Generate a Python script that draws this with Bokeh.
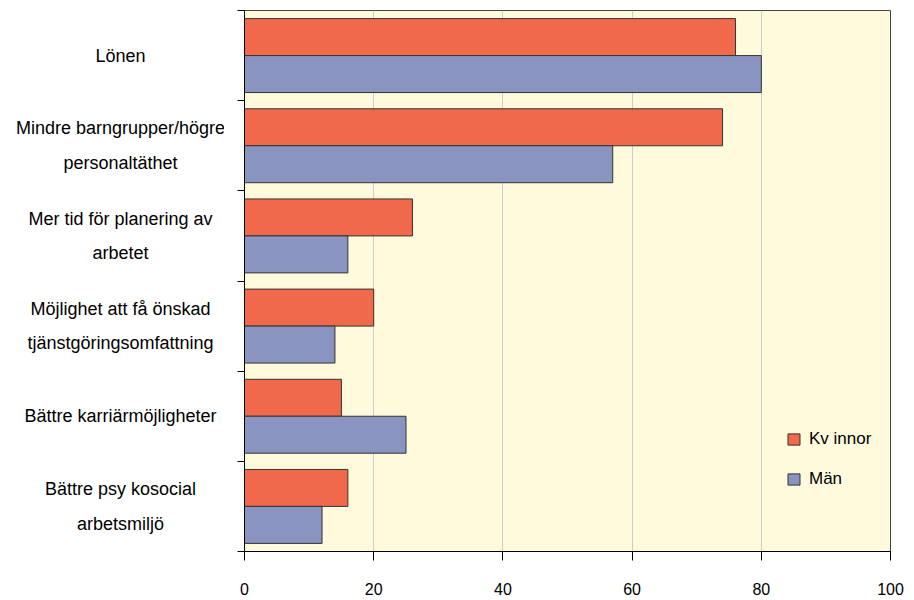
from bokeh.plotting import figure
from bokeh.layouts import row
from bokeh.models import Range1d, FixedTicker, Legend, LegendItem, ColumnDataSource
from bokeh.core.properties import value
from bokeh.embed import file_html
from bokeh.resources import INLINE

categories = [
    "Lönen",
    "Mindre barngrupper/högre\npersonaltäthet",
    "Mer tid för planering av\narbetet",
    "Möjlighet att få önskad\ntjänstgöringsomfattning",
    "Bättre karriärmöjligheter",
    "Bättre psy kosocial\narbetsmiljö",
]
kvinnor = [76, 74, 26, 20, 15, 16]
man = [80, 57, 16, 14, 25, 12]
x_ticks = [0, 20, 40, 60, 80, 100]

n = len(categories)
centers = [n - i - 0.5 for i in range(n)]
src_k = ColumnDataSource(dict(y=[c + 0.205 for c in centers], v=kvinnor))
src_m = ColumnDataSource(dict(y=[c - 0.205 for c in centers], v=man))
src_lab = ColumnDataSource(dict(y=centers, text=categories))

FONT = "Liberation Sans"
RED = "#F0694B"
BLUE = "#8A94C0"
BG = "#FFFADC"

yr = Range1d(0, n)

# left panel with category labels
pl = figure(width=224, height=600, output_backend="svg", toolbar_location=None,
            x_range=Range1d(0, 224), y_range=yr,
            min_border_left=0, min_border_right=0, min_border_top=10, min_border_bottom=49)
pl.axis.visible = False
pl.grid.grid_line_color = None
pl.outline_line_color = None
pl.background_fill_color = "white"
pl.text(x=120, y="y", text="text", source=src_lab, text_align="center",
        text_baseline="middle", text_font=value(FONT), text_font_size="18px",
        text_color="black", text_line_height=1.74)

p = figure(width=686, height=600, output_backend="svg", toolbar_location=None,
           x_range=Range1d(0, 100), y_range=yr,
           min_border_left=20, min_border_right=20, min_border_top=10, min_border_bottom=49)
p.background_fill_color = BG
p.border_fill_color = "white"
p.outline_line_color = "#444444"

rk = p.hbar(y="y", right="v", left=0, height=0.41, source=src_k,
            fill_color=RED, line_color="#333333", line_width=1)
rm = p.hbar(y="y", right="v", left=0, height=0.41, source=src_m,
            fill_color=BLUE, line_color="#333333", line_width=1)

# grid
p.xgrid.ticker = FixedTicker(ticks=x_ticks)
p.xgrid.grid_line_color = "#CCCCCC"
p.ygrid.grid_line_color = None

# x axis
p.xaxis.ticker = FixedTicker(ticks=x_ticks)
p.xaxis.axis_line_color = "black"
p.xaxis.major_tick_line_color = "black"
p.xaxis.major_tick_out = 9
p.xaxis.major_tick_in = 0
p.xaxis.minor_tick_line_color = None
p.xaxis.major_label_text_font = FONT
p.xaxis.major_label_text_font_size = "16px"
p.xaxis.major_label_text_color = "black"
p.xaxis.major_label_standoff = 22

# y axis: ticks at band boundaries, labels drawn in left panel
p.yaxis.ticker = FixedTicker(ticks=list(range(n + 1)))
p.yaxis.axis_line_color = "black"
p.yaxis.major_tick_line_color = "black"
p.yaxis.major_tick_out = 7
p.yaxis.major_tick_in = 0
p.yaxis.minor_tick_line_color = None
p.yaxis.major_label_text_font_size = "0px"
p.yaxis.major_label_text_color = None
p.yaxis.major_label_standoff = 0

legend = Legend(items=[LegendItem(label="Kv innor", renderers=[rk]),
                       LegendItem(label="Män", renderers=[rm])],
                location=(542, 62))
legend.background_fill_alpha = 0
legend.border_line_color = None
legend.padding = 0
legend.margin = 0
legend.spacing = 20
legend.glyph_width = 15
legend.glyph_height = 14
legend.label_height = 20
legend.label_standoff = 8
legend.label_text_font = FONT
legend.label_text_font_size = "17px"
legend.label_text_color = "black"
p.add_layout(legend)

layout = row(pl, p, spacing=0)
open("out.html", "w").write(file_html(layout, INLINE))
